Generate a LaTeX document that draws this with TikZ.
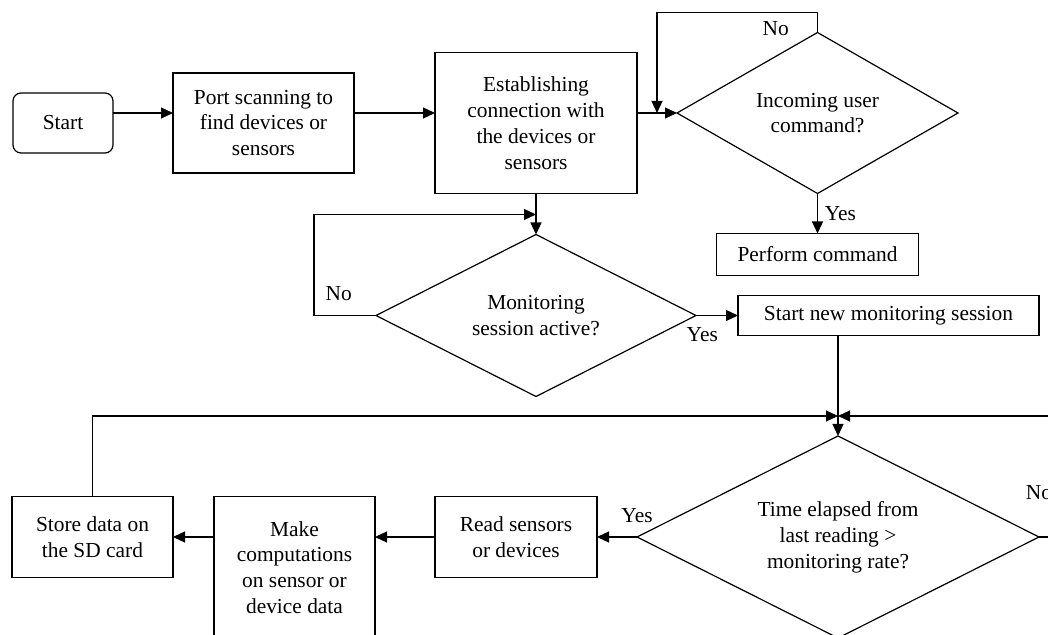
\documentclass[tikz,border=0pt]{standalone}
\usepackage{fontspec}
\setmainfont{Liberation Serif}
\usetikzlibrary{shapes, positioning, arrows.meta}

\begin{document}
\begin{tikzpicture}[->, >={Triangle[length=6pt,width=5.5pt]}, x=0.5pt, y=-0.5pt, line width=0.6pt, font=\fontsize{10.7pt}{12.9pt}\selectfont]
\tikzstyle{box}=[draw, rectangle, align=center, inner sep=0pt, outer sep=0pt]
\tikzstyle{test}=[draw, diamond, aspect=2, align=center, inner sep=0pt, outer sep=0pt]

\useasboundingbox (0,0) rectangle (1048,635);
\clip (0,0) rectangle (1048,635);

\node[box, rounded corners=4pt, minimum width=50pt, minimum height=30pt] (S) at (63,123) {Start};
\node[box, minimum width=90.5pt, minimum height=50pt] (P)[right=30pt of S] {Port scanning to\\find devices or\\sensors};
\node[box, minimum width=101pt, minimum height=70.5pt] (E)[right=40.5pt of P] {Establishing\\connection with\\the devices or\\sensors};
\node[test, minimum width=140.5pt, minimum height=80.5pt] (I)[right=20pt of E.east, yshift=5pt] {Incoming user\\command?};
\node[box, minimum width=101pt, minimum height=21pt] (C)[below=20pt of I] {Perform command};

\node[test, minimum width=160pt, minimum height=81pt] (M)[below=20.5pt of E] {Monitoring\\session active?};
\node[box, minimum width=150.5pt, minimum height=20pt] (N)[right=21pt of M] {Start new monitoring session};

\node[test, minimum width=201pt, minimum height=101pt] (T) at (838,537) {Time elapsed from\\last reading >\\monitoring rate?};
\node[box, minimum width=81pt, minimum height=40.5pt] (R)[left=20pt of T] {Read sensors\\or devices};
\node[box, minimum width=80.5pt, minimum height=71pt] (K)[left=30pt of R.north west, anchor=north east] {Make\\computations\\on sensor or\\device data};
\node[box, minimum width=80.5pt, minimum height=40.5pt] (D)[left=20.5pt of K.north west, anchor=north east] {Store data on\\the SD card};

% merge points
\coordinate (I') at ([xshift=10pt,yshift=5pt]E.east);
\coordinate (M') at ([yshift=-10.5pt]E.south);
\coordinate (T') at ([yshift=10pt]T.north);

\path
([yshift=5pt]S.east) edge ([yshift=5pt]P.west)
([yshift=5pt]P.east) edge ([yshift=5pt]E.west)
([yshift=5pt]E.east) edge (I.west)
(I.south) edge node[right]{Yes} (C.north)
(E.south) edge (M.north)
(M.east) edge node[below, pos=0.15, yshift=-2.5pt]{Yes} (N.west)
([xshift=-25.25pt]N.south) edge (T.north)
(T.west) edge node[above, pos=0, yshift=3.5pt]{Yes} (R.east)
(R.west) edge (R.west -| K.east)
(R.west -| K.west) edge (D.east);

% loops back
\draw (I.north) -- ++(0,10pt) -| node[pos=0.13, below, yshift=-1pt]{No} (I');
\draw (M.west) -- node[above, pos=0.6, yshift=4pt]{No} ++(-31pt,0) |- (M');
\draw (D.north) |- (T');
\draw (T.east) -- node[above, pos=0, yshift=15pt]{No} ++(20pt,0) |- (T');

\end{tikzpicture}
\end{document}
